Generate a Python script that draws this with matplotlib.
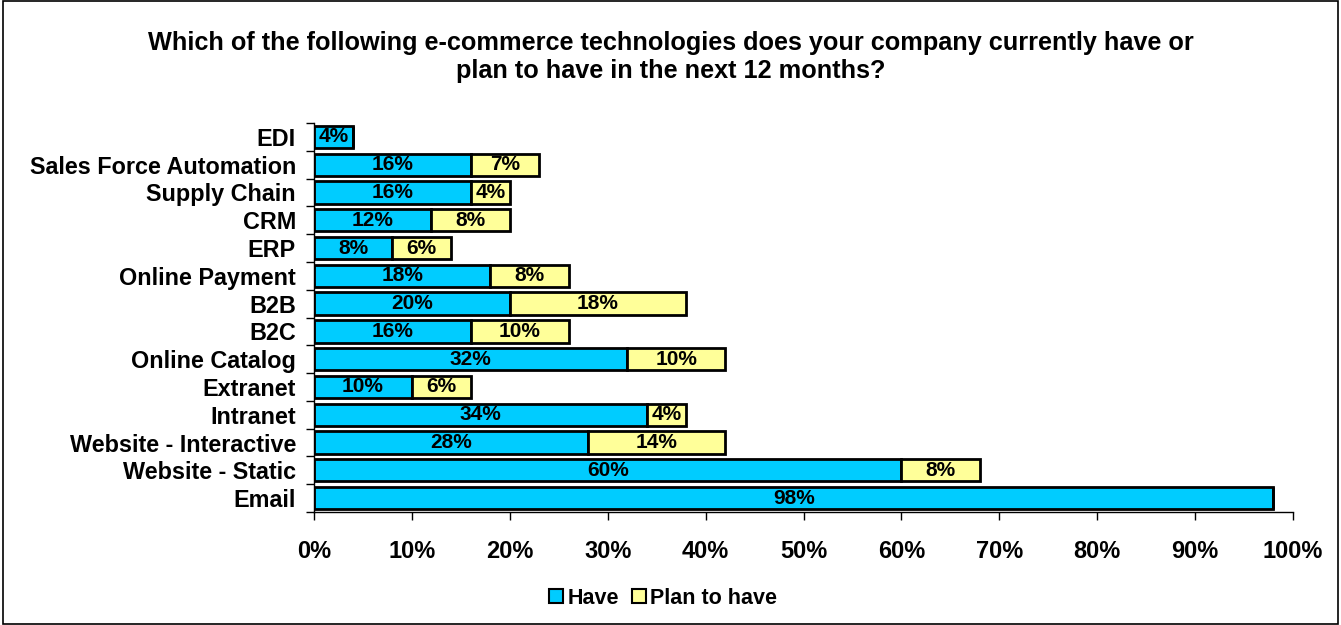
import matplotlib
matplotlib.use("Agg")
import matplotlib.pyplot as plt
from matplotlib.patches import Rectangle
from matplotlib.ticker import MultipleLocator, FixedLocator, PercentFormatter

categories = ["EDI", "Sales Force Automation", "Supply Chain", "CRM", "ERP",
              "Online Payment", "B2B", "B2C", "Online Catalog", "Extranet",
              "Intranet", "Website - Interactive", "Website - Static", "Email"]
have = [4, 16, 16, 12, 8, 18, 20, 16, 32, 10, 34, 28, 60, 98]
plan = [0, 7, 4, 8, 6, 8, 18, 10, 10, 6, 4, 14, 8, 0]

plt.rcParams['font.family'] = ['Liberation Sans', 'DejaVu Sans']
plt.rcParams['font.weight'] = 'bold'

blue = "#00CCFF"
yellow = "#FFFF99"

fig = plt.figure(figsize=(13.41, 6.25), dpi=100)
fig.patches.append(Rectangle((0.002, 0.002), 0.996, 0.996, transform=fig.transFigure,
                             fill=False, edgecolor="black", linewidth=1.2))
ax = fig.add_axes([314/1341, 1 - 512/625, (1293-314)/1341, (512-123)/625])

n = len(categories)
ypos = list(range(n))
h = 0.8
ax.barh(ypos, have, height=h, color=blue, edgecolor="black", linewidth=2)
ax.barh(ypos, plan, left=have, height=h, color=yellow, edgecolor="black", linewidth=2)

for y, a, b in zip(ypos, have, plan):
    if a:
        ax.text(a / 2, y, f"{a}%", ha="center", va="center", fontsize=15, fontweight="bold")
    if b:
        ax.text(a + b / 2, y, f"{b}%", ha="center", va="center", fontsize=15, fontweight="bold")

ax.set_ylim(n - 0.5, -0.5)
ax.set_xlim(0, 100)
ax.yaxis.set_major_locator(FixedLocator(ypos))
ax.set_yticklabels(categories, fontsize=16.8, fontweight="bold")
ax.yaxis.set_minor_locator(FixedLocator([i - 0.5 for i in range(n + 1)]))
ax.tick_params(axis="y", which="major", length=0, pad=13)
ax.tick_params(axis="y", which="minor", length=6, width=1)
ax.xaxis.set_major_locator(MultipleLocator(10))
ax.xaxis.set_major_formatter(PercentFormatter(decimals=0))
ax.tick_params(axis="x", length=6, width=1, pad=14, labelsize=17)
for lbl in ax.get_xticklabels():
    lbl.set_fontweight("bold")
for s in ("top", "right"):
    ax.spines[s].set_visible(False)
for s in ("left", "bottom"):
    ax.spines[s].set_linewidth(1)

fig.text(0.5, 1 - 57/625, "Which of the following e-commerce technologies does your company currently have or\nplan to have in the next 12 months?",
         ha="center", va="center", fontsize=18.2, fontweight="bold", linespacing=1.25)

handles = [Rectangle((0, 0), 1, 1, facecolor=blue, edgecolor="black", linewidth=1.5),
           Rectangle((0, 0), 1, 1, facecolor=yellow, edgecolor="black", linewidth=1.5)]
fig.legend(handles, ["Have", "Plan to have"], loc="center", bbox_to_anchor=(663/1341, 1 - 598/625),
           ncol=2, frameon=False, handlelength=0.65, handleheight=0.65,
           handletextpad=0.2, columnspacing=0.6, prop={'weight': 'bold', 'size': 15.5})

fig.savefig("out.png", dpi=100)
